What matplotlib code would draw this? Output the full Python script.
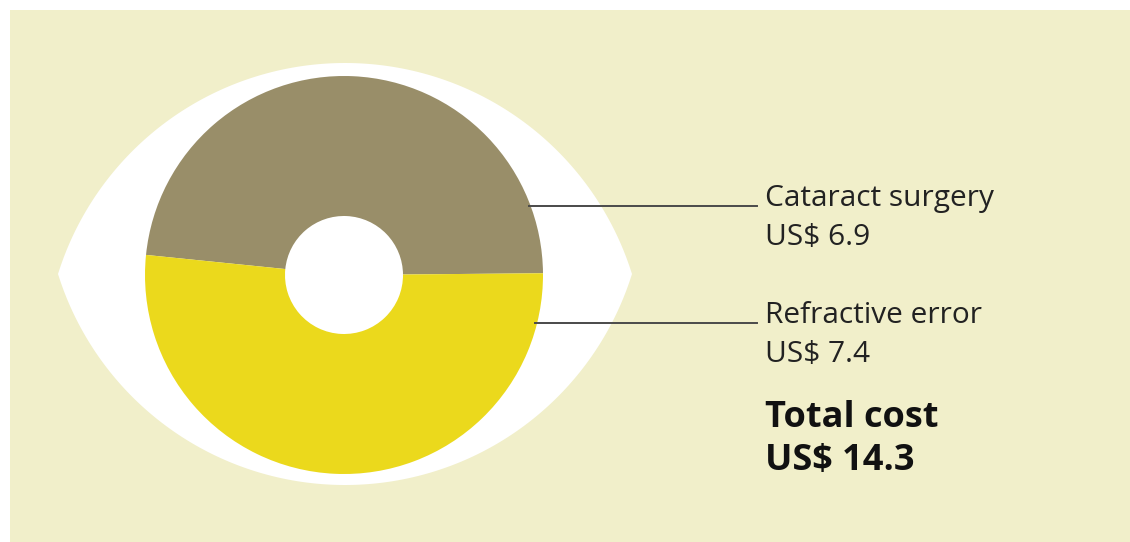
import numpy as np
import matplotlib
matplotlib.use("Agg")
from matplotlib import pyplot as plt
from matplotlib.patches import Rectangle, Polygon

# data
categories = ["Cataract surgery", "Refractive error"]
costs = [6.9, 7.4]
colors = ["#998e69", "#ebd91c"]
total_label = "Total cost"

W, H = 1130, 542
BG = "#f1efca"

plt.rcParams['font.family'] = ['Open Sans', 'DejaVu Sans']

fig = plt.figure(figsize=(W / 100, H / 100), dpi=100)
fig.patch.set_facecolor("white")
ax = fig.add_axes([0, 0, 1, 1])

# cream panel (white margin on top and left)
ax.add_patch(Rectangle((10, -20), W + 20, H + 10, facecolor=BG, edgecolor="none",
                       zorder=0, clip_on=False))

# eye shape: two circular arcs meeting at the tips
cy = H - 274
tip_l, tip_r = 58, 632
top_y, bot_y = H - 63, H - 485

def arc(y_peak, sign):
    w = (tip_r - tip_l) / 2
    h = abs(y_peak - cy)
    R = (w ** 2 + h ** 2) / (2 * h)
    ccy = y_peak - sign * R
    xs = np.linspace(tip_l, tip_r, 200)
    ys = ccy + sign * np.sqrt(R ** 2 - (xs - (tip_l + tip_r) / 2) ** 2)
    return xs, ys

xt, yt = arc(top_y, 1)
xb, yb = arc(bot_y, -1)
pts = np.column_stack([np.concatenate([xt, xb[::-1]]), np.concatenate([yt, yb[::-1]])])
ax.add_patch(Polygon(pts, closed=True, facecolor="white", edgecolor="none", zorder=1))

# donut
pcx, pcy, r_out, r_in = 344, H - 275, 199, 59
wedges, _ = ax.pie(costs, colors=colors, startangle=0.5, counterclock=True,
                   center=(pcx, pcy), radius=r_out, frame=True,
                   wedgeprops=dict(width=r_out - r_in, edgecolor="none"))
for w in wedges:
    w.set_zorder(2)
ax.set_aspect("auto")
ax.set_xlim(0, W)
ax.set_ylim(0, H)
ax.axis("off")

# leader lines and labels
line_y = [H - 206, H - 323]
text_x = 765
for name, val, ly in zip(categories, costs, line_y):
    x0 = pcx + np.sqrt(r_out ** 2 - (ly - pcy) ** 2) - 2
    ax.plot([x0, 757], [ly, ly], color="#4a4a4a", lw=1.4, zorder=3)
    ax.text(text_x, ly, name, fontsize=21.5, color="#222222", va="baseline", ha="left")
    ax.text(text_x, ly - 39, "US$ %.1f" % val, fontsize=21.5, color="#222222",
            va="baseline", ha="left")

total = sum(costs)
ax.text(text_x, H - 427, total_label, fontsize=26, fontweight="bold", color="#111111",
        va="baseline", ha="left")
ax.text(text_x, H - 470, "US$ %.1f" % total, fontsize=26, fontweight="bold",
        color="#111111", va="baseline", ha="left")

fig.savefig("out.png", dpi=100, facecolor=fig.get_facecolor())
